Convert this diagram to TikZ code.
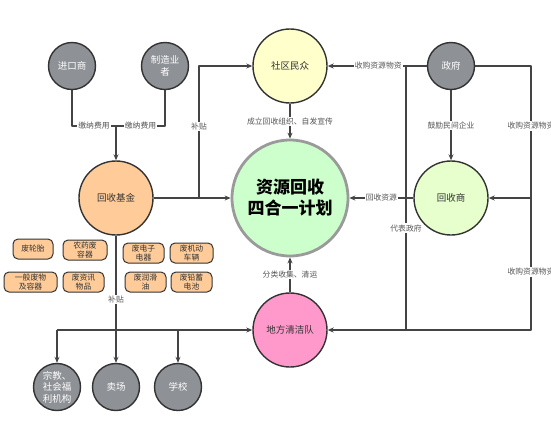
\documentclass[tikz,border=0pt]{standalone}
\usepackage{fontspec}
\setmainfont{Noto Sans CJK SC}
\usetikzlibrary{arrows.meta}
\definecolor{linec}{HTML}{444444}
\definecolor{edgec}{HTML}{333333}
\definecolor{lblc}{HTML}{555555}
\definecolor{grayc}{HTML}{8E9196}
\definecolor{yellowc}{HTML}{FFFFCC}
\definecolor{orangec}{HTML}{FFCC99}
\definecolor{mintc}{HTML}{CCFFCC}
\definecolor{limec}{HTML}{E6FFCC}
\definecolor{pinkc}{HTML}{FF99CC}
\definecolor{rimc}{HTML}{9A9A9A}
\begin{document}
\begin{tikzpicture}[x=1pt,y=-1pt,>={Stealth[length=6pt,width=5pt]},line join=round,
	line width=1.1pt,color=linec,
	ball/.style={circle,draw=edgec,line width=1.4pt,inner sep=0pt,minimum size=74pt,align=center,text=edgec,font=\fontsize{9.5}{11}\selectfont},
	gball/.style={ball,fill=grayc,minimum size=47pt,text=white,font=\fontsize{9.5}{11.5}\selectfont},
	mainball/.style={ball,fill=mintc,draw=rimc,line width=2.8pt,minimum size=116pt,text=black,font=\fontsize{17}{21}\selectfont\bfseries},
	tag/.style={rectangle,rounded corners=5pt,draw=edgec,line width=1pt,fill=orangec,inner sep=1pt,minimum height=20pt,align=center,text=edgec,font=\fontsize{7.8}{9}\selectfont},
	lbl/.style={fill=white,inner sep=1pt,text=lblc,font=\fontsize{7.8}{9}\selectfont}]
	\useasboundingbox (0,0) rectangle (551,432);
	\node[gball] (jk) at (72,66) {进口商};
	\node[gball] (zz) at (165,66) {制造业\\者};
	\node[ball,fill=yellowc] (sq) at (290,66) {社区民众};
	\node[gball] (zf) at (451,66) {政府};
	\node[ball,fill=orangec] (jj) at (116,198) {回收基金};
	\node[mainball] (jh) at (290,198) {资源回收\\四合一计划};
	\node[ball,fill=limec] (hs) at (451,198) {回收商};
	\node[ball,fill=pinkc] (qj) at (290,330) {地方清洁队};
	\node[gball] (zj) at (57,387) {宗教、\\社会福\\利机构};
	\node[gball] (mc) at (116,387) {卖场};
	\node[gball] (xx) at (178,387) {学校};
	\node[tag,minimum width=40pt] (b1) at (33,249) {废轮胎};
	\node[tag,minimum width=44pt] (b2) at (85,250) {农药废\\容器};
	\node[tag,minimum width=41pt] (b3) at (143.5,253) {废电子\\电器};
	\node[tag,minimum width=43pt] (b4) at (191.5,253) {废机动\\车辆};
	\node[tag,minimum width=53pt] (b5) at (30.5,282) {一般废物\\及容器};
	\node[tag,minimum width=41pt] (b6) at (83.5,282) {废资讯\\物品};
	\node[tag,minimum width=41pt] (b7) at (145.5,282) {废润滑\\油};
	\node[tag,minimum width=41pt] (b8) at (191.5,282) {废铅蓄\\电池};
	\coordinate (fee) at (116,126);
	\coordinate (sub) at (199,198);
	\coordinate (rep) at (406,66);
	\coordinate (rt) at (531,66);
	\coordinate (rm) at (531,198);
	\coordinate (rb) at (531,330);
	\coordinate (lb) at (406,330);
	\coordinate (fb) at (116,330);
	\coordinate (fl) at (57,330);
	\coordinate (fr) at (178,330);
	\draw (jk) |- (fee) node[lbl,pos=0.75]{缴纳费用};
	\draw (zz) |- (fee) node[lbl,pos=0.75]{缴纳费用};
	\draw[->] (fee) -- (jj);
	\draw[->] (jj) -- (jh);
	\draw[->] (sub) |- (sq) node[lbl,pos=0.27]{补贴};
	\draw[->] (sq) -- (jh) node[lbl,midway]{成立回收组织、自发宣传};
	\draw[->] (zf) -- (sq) node[lbl,pos=0.49]{收购资源物资};
	\draw[->] (rep) |- (qj) node[lbl,pos=0.307]{代表政府};
	\draw[->] (zf) -- (hs) node[lbl,midway]{鼓励民间企业};
	\draw (zf) -- (rt) -- (rb) node[lbl,pos=0.227]{收购资源物资} node[lbl,pos=0.78]{收购资源物资} -- (lb);
	\draw[->] (rm) -- (hs);
	\draw[->] (hs) -- (jh) node[lbl,midway]{回收资源};
	\draw[->] (qj) -- (jh) node[lbl,midway]{分类收集、清运};
	\draw (jj) -- (fb) node[lbl,pos=0.68]{补贴};
	\draw[->] (fl) -- (qj);
	\draw[->] (fl) -- (zj);
	\draw[->] (fb) -- (mc);
	\draw[->] (fr) -- (xx);
\end{tikzpicture}
\end{document}
